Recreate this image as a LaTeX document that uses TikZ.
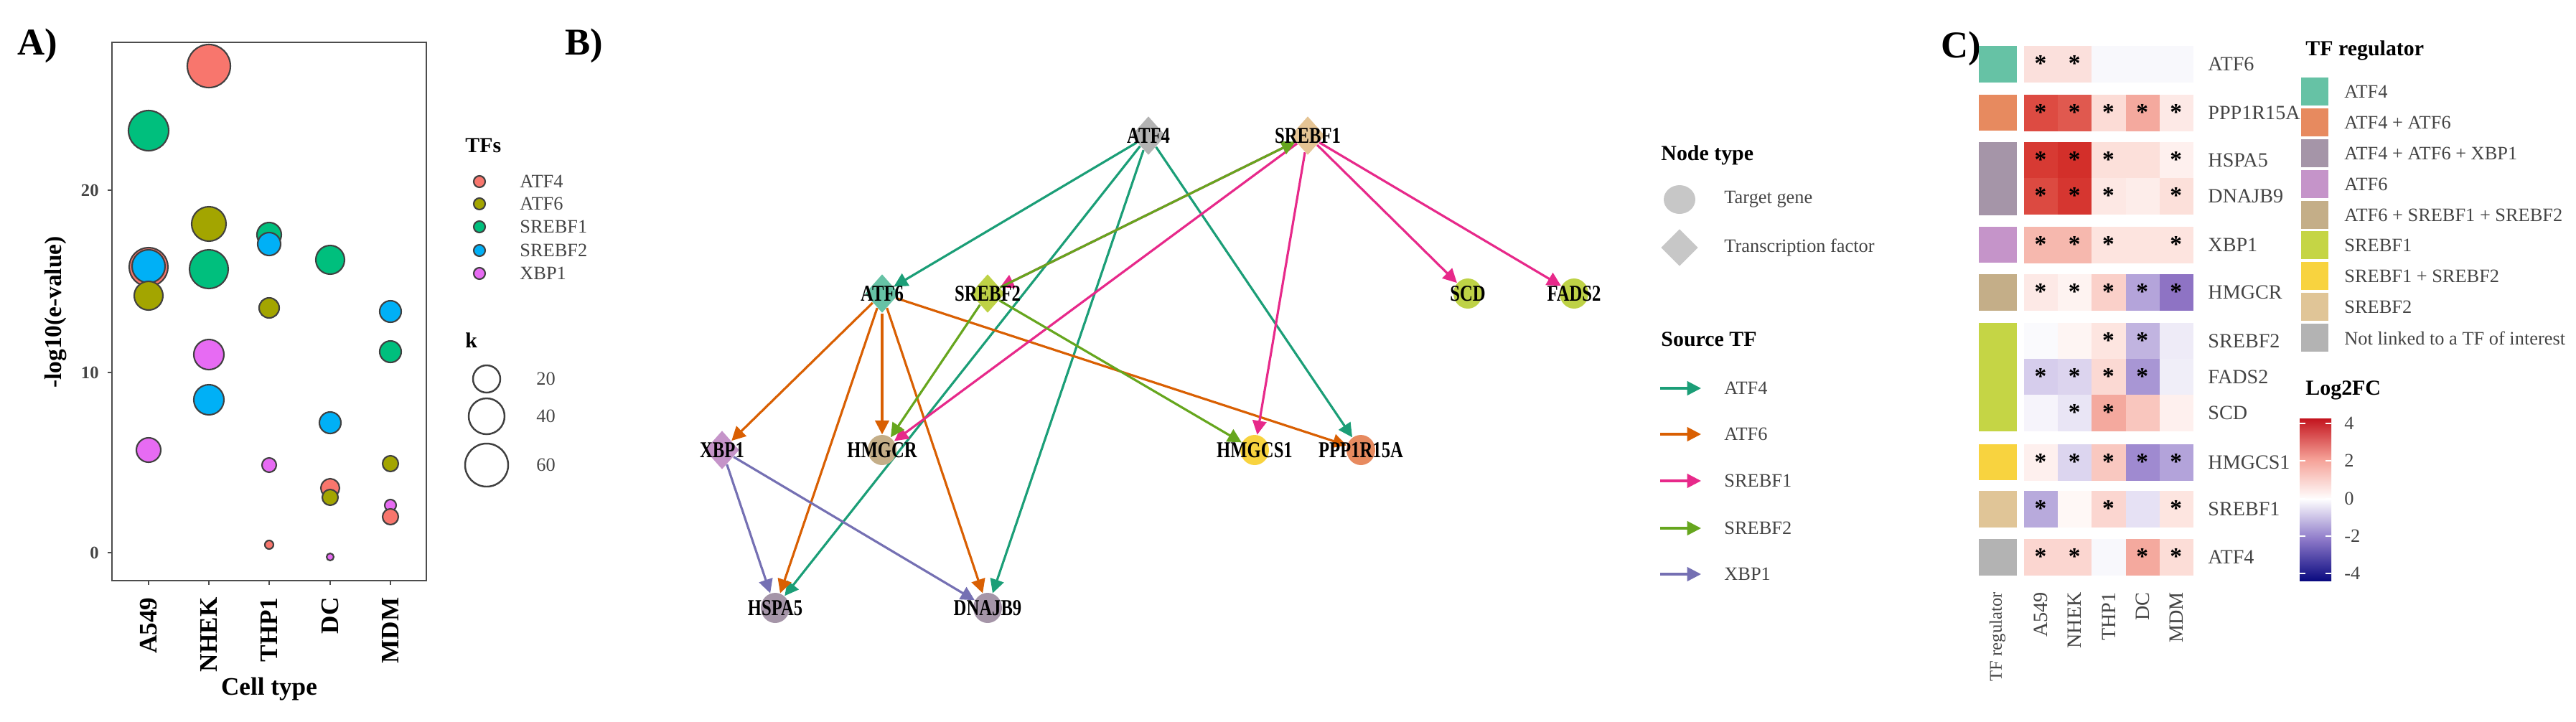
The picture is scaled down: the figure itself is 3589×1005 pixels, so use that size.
\documentclass[tikz,border=0pt]{standalone}
\usepackage{fontspec}
\setmainfont{Liberation Serif}
\newfontfamily\condfont[FakeStretch=0.78]{Liberation Serif}
\usetikzlibrary{shapes.geometric,arrows.meta,backgrounds}
\definecolor{cATFfour}{HTML}{F8766D}
\definecolor{cATFsix}{HTML}{A3A500}
\definecolor{cSone}{HTML}{00BF7D}
\definecolor{cStwo}{HTML}{00B0F6}
\definecolor{cXBP}{HTML}{E76BF3}
\definecolor{eATFfour}{HTML}{1B9E77}
\definecolor{eATFsix}{HTML}{D95F02}
\definecolor{eSone}{HTML}{E7298A}
\definecolor{eStwo}{HTML}{66A61E}
\definecolor{eXBP}{HTML}{7570B3}
\definecolor{txtgray}{HTML}{444444}
\begin{document}
\begin{tikzpicture}[x=0.01cm,y=-0.01cm,
  panel/.style={font=\fontsize{15}{16}\selectfont\bfseries},
  bub/.style={draw=black!75,line width=0.6pt},
  nlab/.style={label={[font=\condfont\fontsize{9}{9}\selectfont\bfseries,inner sep=0pt]center:#1}},
  tf/.style={diamond,minimum width=48*0.01cm,minimum height=54*0.01cm,inner sep=0pt,nlab=#1},
  tg/.style={ellipse,minimum width=40*0.01cm,minimum height=42*0.01cm,inner sep=0pt,nlab=#1},
  ed/.style={line width=0.9pt,-{Triangle[length=5.5pt,width=5.5pt]}},
  leg/.style={font=\fontsize{7.5}{9}\selectfont,text=txtgray,anchor=west},
  legt/.style={font=\fontsize{8.5}{10}\selectfont\bfseries,anchor=west},
  hl/.style={font=\fontsize{8}{9}\selectfont,text=txtgray},
]
\useasboundingbox (0,0) rectangle (3589,1005);
% ================= Panel A =================
\node[panel] (LA) at (52,64) {A)};
\draw[black!70,line width=0.8pt] (156,59) rectangle (594,809);
\foreach \v/\yy in {20/265,10/519,0/770}{
  \draw[black!70] (150,\yy) -- (156,\yy);
  \node[anchor=east,font=\fontsize{7}{8}\selectfont\bfseries,text=txtgray] at (150,\yy) {\v};
}
\node[rotate=90,font=\fontsize{9.5}{10}\selectfont\bfseries] (ylab) at (78,435) {-log10(e-value)};
\foreach \xx/\nm in {207/A549,291/NHEK,375/THP1,460/DC,544/MDM}{
  \draw[black!70] (\xx,809) -- (\xx,815);
  \node[rotate=90,anchor=east,font=\fontsize{10}{11}\selectfont\bfseries] at (\xx,820) {\nm};
}
\node[font=\fontsize{10}{11}\selectfont\bfseries] (xlab) at (375,960) {Cell type};
\foreach \xx/\yy/\r/\c in {
  207/182/28/cSone, 207/372/27/cATFfour, 207/371/23/cStwo, 207/412/20/cATFsix, 207/627/17/cXBP,
  291/92/30/cATFfour, 291/312/24/cATFsix, 291/375/27/cSone, 291/494/21/cXBP, 291/557/21/cStwo,
  375/327/17/cSone, 375/340/16/cStwo, 375/429/14/cATFsix, 375/648/10/cXBP, 375/759/6/cATFfour,
  460/362/20/cSone, 460/589/15/cStwo, 460/680/13/cATFfour, 460/693/11/cATFsix, 460/776/5/cXBP,
  544/434/15/cStwo, 544/490/15/cSone, 544/646/11/cATFsix, 544/704/8/cXBP, 544/720/11/cATFfour}{
  \fill[bub,fill=\c] (\xx,\yy) circle[radius=\r*0.01cm];
}
\node[legt] (TFs) at (636,203) {TFs};
\foreach \yy/\c/\nm in {253/cATFfour/ATF4,284/cATFsix/ATF6,316/cSone/SREBF1,349/cStwo/SREBF2,381/cXBP/XBP1}{
  \fill[bub,fill=\c] (668,\yy) circle[radius=8*0.01cm];
  \node[leg] at (712,\yy) {\nm};
}
\node[legt] (kk) at (636,474) {k};
\foreach \yy/\r/\nm in {528/19/20,580/25/40,648/30/60}{
  \draw[black!75,line width=0.7pt] (678,\yy) circle[radius=\r*0.01cm];
  \node[leg] at (735,\yy) {\nm};
}
% ================= Panel B =================
\node[panel] (LB) at (814,64) {B)};
\node[tf=ATF4,fill={rgb,255:red,179;green,179;blue,179}] (ATF4) at (1600,189) {};
\node[tf=SREBF1,fill={rgb,255:red,229;green,196;blue,148}] (SREBF1) at (1822,189) {};
\node[tf=ATF6,fill={rgb,255:red,102;green,194;blue,165}] (ATF6) at (1229,409) {};
\node[tf=SREBF2,fill={rgb,255:red,190;green,210;blue,70}] (SREBF2) at (1376,409) {};
\node[tg=SCD,fill={rgb,255:red,190;green,210;blue,70}] (SCD) at (2045,409) {};
\node[tg=FADS2,fill={rgb,255:red,190;green,210;blue,70}] (FADS2) at (2193,409) {};
\node[tf=XBP1,fill={rgb,255:red,197;green,148;blue,201}] (XBP1) at (1006,627) {};
\node[tg=HMGCR,fill={rgb,255:red,196;green,174;blue,136}] (HMGCR) at (1229,627) {};
\node[tg=HMGCS1,fill={rgb,255:red,248;green,211;blue,63}] (HMGCS1) at (1748,627) {};
\node[tg=PPP1R15A,fill={rgb,255:red,231;green,138;blue,95}] (PPP) at (1896,627) {};
\node[tg=HSPA5,fill={rgb,255:red,165;green,149;blue,168}] (HSPA5) at (1080,847) {};
\node[tg=DNAJB9,fill={rgb,255:red,165;green,149;blue,168}] (DNAJB9) at (1376,847) {};
\begin{pgfonlayer}{background}
\draw[ed,eATFfour] (ATF4) -- (ATF6);
\draw[ed,eATFfour] (ATF4) -- (HSPA5);
\draw[ed,eATFfour] (ATF4) -- (DNAJB9);
\draw[ed,eATFfour] (ATF4) -- (PPP);
\draw[ed,eATFsix] (ATF6) -- (XBP1);
\draw[ed,eATFsix] (ATF6) -- (HMGCR);
\draw[ed,eATFsix] (ATF6) -- (HSPA5);
\draw[ed,eATFsix] (ATF6) -- (DNAJB9);
\draw[ed,eATFsix] (ATF6) -- (PPP);
\draw[ed,eSone] (SREBF1) -- (SREBF2);
\draw[ed,eSone] (SREBF1) -- (HMGCR);
\draw[ed,eSone] (SREBF1) -- (HMGCS1);
\draw[ed,eSone] (SREBF1) -- (SCD);
\draw[ed,eSone] (SREBF1) -- (FADS2);
\draw[ed,eStwo] (SREBF2) -- (SREBF1);
\draw[ed,eStwo] (SREBF2) -- (HMGCR);
\draw[ed,eStwo] (SREBF2) -- (HMGCS1);
\draw[ed,eXBP] (XBP1) -- (HSPA5);
\draw[ed,eXBP] (XBP1) -- (DNAJB9);
\end{pgfonlayer}
% legend B
\node[legt] (NT) at (2302,216) {Node type};
\node[ellipse,fill=black!22,minimum width=44*0.01cm,minimum height=40*0.01cm] (lgc) at (2340,278) {};
\node[leg] (lgct) at (2390,278) {Target gene};
\node[diamond,fill=black!22,minimum width=52*0.01cm,minimum height=52*0.01cm,inner sep=0pt] (lgd) at (2340,345) {};
\node[leg] (lgdt) at (2390,345) {Transcription factor};
\node[legt] (ST) at (2302,473) {Source TF};
\foreach \yy/\c/\nm in {541/eATFfour/ATF4,605/eATFsix/ATF6,670/eSone/SREBF1,736/eStwo/SREBF2,800/eXBP/XBP1}{
  \coordinate (s\nm) at (2313,\yy); \coordinate (t\nm) at (2370,\yy);
  \draw[ed,\c] (s\nm) -- (t\nm);
  \node[leg] at (2390,\yy) {\nm};
}
% ================= Panel C =================
\node[panel] (LC) at (2732,68) {C)};
\foreach \ya/\yb/\c in {64/115/66C2A5,132/182/E78A5F,198/300/A595A8,316/366/C594C9,382/433/C4AE88,450/601/C5D545,619/669/F8D33F,684/735/E0C597,751/802/B3B3B3}{
  \definecolor{tmpc}{HTML}{\c}
  \fill[tmpc] (2757,\ya) rectangle (2810,\yb);
}
\foreach \ya/\nm/\a/\b/\c/\d/\e in {
  64/ATF6/FBE0DC/FBE0DC/F8F8FC/F8F8FC/F8F8FC,
  132/PPP1R15A/DD4B42/E0594F/FCDCD6/F4A99E/FDE9E6,
  198/HSPA5/D73A33/D32F2A/FCE0DA/FCE0DA/FEF0EE,
  248/DNAJB9/DC4A41/D63630/FDE8E4/FDEDEA/FCE0DA,
  316/XBP1/F6B8AE/F6B8AE/FDE4DF/FDE4DF/FDE4DF,
  382/HMGCR/FDE9E6/FEF3F1/FAD0C9/B4A4DA/8E73C4,
  450/SREBF2/FAFAFD/FEF5F3/FDE5E0/C1B4E0/EEEBF7,
  500/FADS2/D6CDEC/DCD4EE/FBD9D3/A896D4/F0EEF8,
  550/SCD/F6F4FB/E9E5F5/F4A99E/F9C6BE/FEF0EE,
  619/HMGCS1/FEF0EE/DCD5EF/F9C8C0/9F8AD0/B3A3DA,
  684/SREBF1/B8AADC/FFF8F6/FBD6D0/E6E1F4/FDE5E0,
  751/ATF4/FBD6D0/FBD6D0/F8F8FC/F4A99E/FCDDD7}{
  \definecolor{ca}{HTML}{\a}\definecolor{cb}{HTML}{\b}\definecolor{cc}{HTML}{\c}\definecolor{cd}{HTML}{\d}\definecolor{ce}{HTML}{\e}
  \fill[ca] (2820,\ya) rectangle (2867,\ya+51);
  \fill[cb] (2867,\ya) rectangle (2914,\ya+51);
  \fill[cc] (2914,\ya) rectangle (2962,\ya+51);
  \fill[cd] (2962,\ya) rectangle (3009,\ya+51);
  \fill[ce] (3009,\ya) rectangle (3056,\ya+51);
  \node[hl,anchor=west] at (3064,\ya+25) {\nm};
}
\foreach \ya/\cols in {64/{1,2},132/{1,2,3,4,5},198/{1,2,3,5},248/{1,2,3,5},316/{1,2,3,5},382/{1,2,3,4,5},450/{3,4},500/{1,2,3,4},550/{2,3},619/{1,2,3,4,5},684/{1,3,5},751/{1,2,4,5}}{
  \foreach \k in \cols {
    \node[font=\fontsize{9.5}{10}\selectfont\bfseries] at (2843+47.2*\k-47.2,\ya+24) {*};
  }
}
\foreach \xx/\nm in {2843/A549,2890/NHEK,2938/THP1,2985/DC,3032/MDM}{
  \node[hl,rotate=90,anchor=east] at (\xx,813) {\nm};
}
\node[hl,rotate=90,anchor=east,font=\fontsize{7}{8}\selectfont] (TFr) at (2783,813) {TF regulator};
\node[legt] (TFR) at (3200,70) {TF regulator};
\foreach \ya/\c/\nm in {108/66C2A5/ATF4,151/E78A5F/ATF4 + ATF6,194/A595A8/ATF4 + ATF6 + XBP1,237/C594C9/ATF6,280/C4AE88/ATF6 + SREBF1 + SREBF2,322/C5D545/SREBF1,365/F8D33F/SREBF1 + SREBF2,408/E0C597/SREBF2,451/B3B3B3/Not linked to a TF of interest}{
  \definecolor{tmpc}{HTML}{\c}
  \fill[tmpc] (3206,\ya) rectangle (3244,\ya+39);
  \node[hl,anchor=west,font=\fontsize{7.5}{8}\selectfont] at (3254,\ya+20) {\nm};
}
\node[legt] (LFC) at (3200,544) {Log2FC};
\shade[top color={rgb,255:red,195;green,20;blue,30},bottom color=white,middle color={rgb,255:red,245;green,160;blue,150}] (3204,583) rectangle (3248,696);
\shade[top color=white,bottom color={rgb,255:red,10;green,10;blue,128},middle color={rgb,255:red,140;green,120;blue,200}] (3204,695) rectangle (3248,809);
\foreach \yy/\v in {590/4,642/2,695/0,747/-2,799/-4}{
  \draw[white,line width=0.6pt] (3204,\yy) -- (3212,\yy) (3240,\yy) -- (3248,\yy);
  \node[hl,anchor=west,font=\fontsize{7.5}{8}\selectfont] at (3254,\yy) {\v};
}
\end{tikzpicture}
\end{document}
